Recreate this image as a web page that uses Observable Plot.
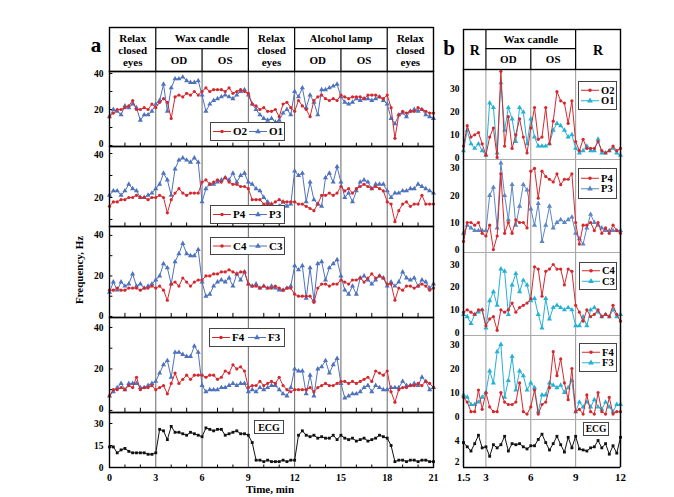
<!DOCTYPE html>
<html><head><meta charset="utf-8">
<script src="https://cdn.jsdelivr.net/npm/d3@7"></script>
<script src="https://cdn.jsdelivr.net/npm/@observablehq/plot@0.6"></script>
<style>
body{margin:0;background:#fff;}
#root{position:relative;width:674px;height:497px;overflow:hidden;font-family:"Liberation Serif","Times New Roman",serif;font-weight:bold;color:#000;}
.lbl{position:absolute;white-space:nowrap;}
</style></head><body><div id="root"></div>
<script>
// ---------------- DATA ----------------
// Panel a: time 0..21 min, sampled every 0.25 min
const O2a = [16,18,20,20,21,22,25,20,20,21,20,23, 21,24,26,24,15,27,28,27,29,28,30,28, 30,32,30,31,31,31,30,32,29,30,31,30, 29,23,22,20,21,19,19,20,16,23,24,21, 19,25,22,20,16,25,27,28,26,25,26,25, 28,27,26,27,27,27,26,28,28,28,27,26, 28,21,4,17,19,18,19,19,21,20,19,18,18];
const O1a = [16,20,19,17,22,21,23,21,14,17,17,19, 23,25,34,19,32,37,37,38,36,35,35,36, 28,19,23,25,26,27,28,27,26,28,30,31, 28,23,20,17,15,14,15,13,14,18,20,17, 30,27,32,21,28,24,17,31,31,32,33,34, 27,24,23,24,26,25,26,26,25,26,27,25, 23,15,12,17,18,16,19,20,19,20,17,16,15];
const P4a = [16,18,18,19,19,20,20,21,20,20,19,20, 20,21,20,13,19,22,24,22,21,22,22,22, 27,28,26,27,28,27,29,27,26,26,25,25, 24,19,19,19,17,17,17,18,19,18,18,18, 18,17,17,16,15,14,17,21,21,22,21,22, 25,23,24,22,24,25,26,25,24,25,24,23, 18,17,9,14,17,18,16,17,17,21,17,17,17];
const P3a = [21,23,23,21,23,26,24,23,20,20,21,22, 24,26,31,28,21,33,37,38,37,36,38,36, 18,24,26,26,27,28,29,28,31,27,30,31, 27,26,24,23,20,18,17,15,16,18,16,17, 32,30,31,18,27,19,17,16,29,31,27,34, 27,20,22,18,23,27,28,27,24,26,26,26, 23,20,22,22,23,23,24,24,26,25,24,23,22];
const C4a = [13,13,14,13,13,14,14,14,13,14,14,15, 14,15,13,8,16,17,15,19,17,15,17,18, 18,20,20,21,21,22,22,23,22,21,22,22, 16,15,15,14,15,14,14,15,14,13,14,14, 11,10,10,10,10,7,14,16,16,15,16,16, 18,17,16,18,18,19,17,19,21,19,20,19, 16,16,8,14,13,15,15,14,15,16,15,13,14];
const C3a = [12,17,13,17,15,16,21,15,16,14,15,16, 18,20,26,24,16,27,31,36,31,30,30,33, 17,10,11,15,17,18,17,19,15,21,18,22, 16,15,16,14,15,14,15,14,13,13,14,15, 25,23,25,9,24,8,26,27,18,24,26,28, 20,13,11,15,11,19,20,18,16,18,20,19, 15,17,15,17,22,19,18,19,15,18,17,14,16];
const F4a = [7,10,10,11,10,12,11,16,10,11,11,12, 10,11,12,8,13,18,13,15,17,15,17,17, 17,16,17,17,15,16,19,18,22,20,21,19, 11,12,12,14,12,13,14,13,16,12,10,9, 10,10,10,10,11,9,11,12,13,12,12,13, 14,14,13,14,13,14,15,16,14,19,18,17, 19,9,4,10,11,11,12,12,13,12,14,13,11];
const F3a = [7,9,11,13,10,13,13,13,11,11,12,13, 14,18,22,24,16,28,28,27,26,26,31,28, 12,9,10,10,10,11,11,12,13,12,13,13, 9,10,9,11,10,11,12,12,10,8,7,11, 20,19,19,8,17,7,20,21,24,18,22,25, 13,6,7,8,8,9,11,12,9,12,11,10, 10,11,11,11,14,12,12,13,12,16,14,10,11];
const ECGa = [14,14,10,12,13,11,10,10,10,10,9,9, 10,26,25,19,28,24,24,23,22,24,23,22, 21,27,26,25,26,26,22,23,24,25,23,23, 22,17,5,5,4,5,4,4,4,5,4,5, 5,22,25,22,21,22,20,21,20,20,22,19, 22,20,19,20,18,19,20,18,19,20,22,21, 20,15,4,5,5,4,5,5,4,5,5,4,4];

// Panel b: time 1.5..12 min, sampled every 0.25 min
const O2b = [5,14,9,10,11,6, 1,9,13,0,38,5,18,4,10,17,9,2, 13,22,8,9,22,6,16,29,25,24,15,25, 7,3,8,4,4,4,7,3,2,3,5,3,4];
const O1b = [3,12,6,4,6,3, 1,24,22,2,33,12,22,17,7,22,20,6, 17,9,5,5,5,6,12,15,14,12,9,10, 4,2,3,5,3,3,8,2,2,3,4,2,1];
const P4b = [3,10,10,9,10,6, 5,9,0,5,28,6,10,6,11,10,10,8, 29,30,19,29,27,26,25,28,24,26,26,28, 10,2,9,9,10,7,10,6,8,6,9,7,6];
const P3b = [6,9,8,7,7,7, 7,20,23,8,32,20,11,24,9,16,24,22, 15,9,17,3,9,16,8,10,11,10,11,12, 6,4,2,8,13,10,9,8,7,7,7,7,7];
const C4b = [9,10,9,8,10,10, 3,6,7,1,10,9,10,13,9,11,12,13, 15,29,28,16,27,28,30,28,28,21,28,27, 12,9,5,10,7,8,10,7,8,7,12,8,5];
const C3b = [8,7,4,8,9,10, 2,14,18,12,28,27,8,21,26,18,23,21, 14,15,8,2,15,6,11,12,11,10,11,10, 3,3,7,3,10,11,9,7,8,7,10,7,8];
const F4b = [8,6,2,2,11,3, 10,4,2,2,10,6,5,5,6,14,2,1, 4,11,1,5,6,12,27,17,24,14,7,20, 2,3,1,9,2,1,10,2,1,8,1,2,2];
const F3b = [9,8,5,5,6,8, 10,19,14,27,30,8,15,25,11,19,17,11, 14,12,2,9,9,14,13,12,13,10,12,15, 2,6,4,6,4,7,4,3,6,4,2,5,5];
const ECGb = [3.8,3.4,3.0,3.7,4.5,3.3,3.4,2.5,3.6,3.3,3.6,4.4,3.0,3.7,3.6,3.7,3.4,3.2,3.5,3.5,4.1,4.6,3.8,3.1,3.7,4.4,3.6,2.9,4.3,3.3,4.4,3.2,3.1,3.0,3.3,3.4,4.0,3.3,3.7,2.7,3.5,2.8,4.3];

// axes / labels
const xDomainA = [0, 21];
const xTicksA = [0, 3, 6, 9, 12, 15, 18, 21];
const xDomainB = [1.5, 12];
const xTicksB = [1.5, 3, 6, 9, 12];
const seriesNames = {O: ["O2", "O1"], P: ["P4", "P3"], C: ["C4", "C3"], F: ["F4", "F3"], E: ["ECG"]};

const hdrA_single = [{from: 0, to: 3, label: "Relax\nclosed\neyes"}, {from: 9, to: 12, label: "Relax\nclosed\neyes"}, {from: 18, to: 21, label: "Relax\nclosed\neyes"}];
const hdrA_group = [{from: 3, to: 9, label: "Wax candle"}, {from: 12, to: 18, label: "Alcohol lamp"}];
const hdrA_sub = [{from: 3, to: 6, label: "OD"}, {from: 6, to: 9, label: "OS"}, {from: 12, to: 15, label: "OD"}, {from: 15, to: 18, label: "OS"}];
const hdrB_single = [{from: 1.5, to: 3, label: "R"}, {from: 9, to: 12, label: "R"}];
const hdrB_group = [{from: 3, to: 9, label: "Wax candle"}];
const hdrB_sub = [{from: 3, to: 6, label: "OD"}, {from: 6, to: 9, label: "OS"}];

// ---------------- DRAWING ----------------
const root = document.getElementById("root");
const FONT = '"Liberation Serif","Times New Roman",serif';
const RED = "#d5282e", BLUE = "#4f72bd", CYAN = "#25b1d6", STEEL = "#5b86c4";
const tA = d3.range(0, 21.0001, 0.25);
const tB = d3.range(1.5, 12.0001, 0.25);
const minutesA = d3.range(1, 21).filter(m => m % 3 !== 0);
const gridA = xTicksA.slice(1, -1);
const gridB = xTicksB.slice(1, -1);

function place(node, left, top) {
  node.style.position = "absolute";
  node.style.left = left + "px";
  node.style.top = top + "px";
  root.appendChild(node);
}
function sub(o) {
  const ml = 30, mr = 4, mt = 4, mb = o.mb ?? 4;
  const svg = Plot.plot({
    width: o.x1 - o.x0 + ml + mr, height: o.y1 - o.y0 + mt + mb,
    marginLeft: ml, marginRight: mr, marginTop: mt, marginBottom: mb,
    x: {domain: o.xd, axis: null}, y: {domain: o.yd, axis: null},
    style: `background:transparent;overflow:visible;font-family:${FONT};font-weight:bold;font-size:10px;max-width:none;color:#000;`,
    marks: o.marks
  });
  place(svg, o.x0 - ml, o.y0 - mt);
}
function series(t, v, color, symbol, r) {
  const d = t.map((x, i) => ({t: x, v: v[i]}));
  return [
    Plot.line(d, {x: "t", y: "v", stroke: color, strokeWidth: 1}),
    Plot.dot(d, {x: "t", y: "v", fill: color, symbol, r})
  ];
}
function yTickLabels(labels, x0, dx, nudge = {}) {
  return labels.map(v => Plot.text([v], {x: () => x0, y: d => d, text: d => String(d), textAnchor: "end", dx, dy: nudge[v] ?? 0, fontSize: 9.5}));
}

// Panel a geometry
const AX0 = 109, AX1 = 433;
function aPanel(y0, y1, yd, marks, yLabels, yMinor, extra = [], mb, nudge) {
  sub({x0: AX0, x1: AX1, y0, y1, xd: xDomainA, yd, mb, marks: [
    Plot.ruleX(gridA, {stroke: "#666", strokeWidth: 1}),
    Plot.ruleX(minutesA, {y1: yd[0], y2: yd[0] + (yd[1] - yd[0]) * 0.045, stroke: "#000"}),
    Plot.ruleY(yMinor, {x1: xDomainA[0], x2: xDomainA[0] + 0.22, stroke: "#000"}),
    ...marks,
    Plot.frame({stroke: "#000", strokeWidth: 1.4}),
    ...yTickLabels(yLabels, xDomainA[0], -6, nudge),
    ...extra
  ]});
}
aPanel(71, 146, [-0.56, 41.1], [...series(tA, O1a, BLUE, "triangle", 1.9), ...series(tA, O2a, RED, "circle", 1.6)], [0, 20, 40], [0, 10, 20, 30, 40], [], undefined, {0: -2});
aPanel(146, 226, [6.8, 43.2], [...series(tA, P3a, BLUE, "triangle", 1.9), ...series(tA, P4a, RED, "circle", 1.6)], [20, 40], [10, 20, 30, 40], [], undefined, {40: 1.5});
aPanel(226, 317, [-0.5, 44.4], [...series(tA, C3a, BLUE, "triangle", 1.9), ...series(tA, C4a, RED, "circle", 1.6)], [0, 20, 40], [0, 10, 20, 30, 40], [], undefined, {0: -1});
aPanel(317, 412, [-1, 44.8], [...series(tA, F3a, BLUE, "triangle", 1.9), ...series(tA, F4a, RED, "circle", 1.6)], [0, 20, 40], [0, 10, 20, 30, 40], [], undefined, {0: -1});
aPanel(412, 467, [0, 37.5], series(tA, ECGa, "#111", "square", 1.6), [0, 15, 30], [0, 15, 30],
  [Plot.text(xTicksA, {x: d => d, y: () => 0, dy: 10, text: d => String(d)})], 18);

// Headers
function header(x0, x1, y0, y1, xd, singles, groups, subs, singleSize) {
  const h = y1 - y0, mid = 0.48 * h;
  const mainDiv = [...new Set([...singles, ...groups].flatMap(d => [d.from, d.to]))].filter(v => v > xd[0] && v < xd[1]);
  const subDiv = subs.map(d => d.to).filter(v => !mainDiv.includes(v) && v < xd[1]);
  sub({x0, x1, y0, y1, xd, yd: [h, 0], marks: [
    Plot.ruleX(mainDiv, {y1: 0, y2: h, stroke: "#000", strokeWidth: 1.2}),
    Plot.ruleX(subDiv, {y1: mid, y2: h, stroke: "#000", strokeWidth: 1.2}),
    Plot.ruleY(groups, {y: () => mid, x1: "from", x2: "to", stroke: "#000", strokeWidth: 1.2}),
    Plot.frame({stroke: "#000", strokeWidth: 1.4}),
    Plot.text(singles, {x: d => (d.from + d.to) / 2, y: () => h / 2 + 1, text: "label", lineHeight: 1.1, fontSize: singleSize}),
    Plot.text(groups, {x: d => (d.from + d.to) / 2, y: () => mid / 2 + 0.5, text: "label", fontSize: 11}),
    Plot.text(subs, {x: d => (d.from + d.to) / 2, y: () => (mid + h) / 2 + 0.5, text: "label", fontSize: 11})
  ]});
}
header(AX0, AX1, 27, 71, xDomainA, hdrA_single, hdrA_group, hdrA_sub, 11);

// Panel b geometry
const BX0 = 463, BX1 = 620;
function bPanel(y0, y1, yd, marks, yLabels, extra = [], mb) {
  sub({x0: BX0, x1: BX1, y0, y1, xd: xDomainB, yd, mb, marks: [
    Plot.ruleX(gridB, {stroke: "#999", strokeWidth: 1}),
    ...marks,
    Plot.frame({stroke: "#aaa", strokeWidth: 1}),
    Plot.ruleX(xDomainB, {stroke: "#000", strokeWidth: 1.5}),
    ...yTickLabels(yLabels, xDomainB[0], -4),
    ...extra
  ]});
}
bPanel(69, 159, [-0.9, 38.8], [...series(tB, O1b, CYAN, "triangle", 1.9), ...series(tB, O2b, RED, "circle", 1.6)], [0, 10, 20, 30]);
bPanel(159, 252, [-1.1, 33.3], [...series(tB, P3b, STEEL, "triangle", 1.9), ...series(tB, P4b, RED, "circle", 1.6)], [0, 10, 20, 30]);
bPanel(252, 335, [-1.3, 35.3], [...series(tB, C3b, CYAN, "triangle", 1.9), ...series(tB, C4b, RED, "circle", 1.6)], [0, 10, 20, 30]);
bPanel(335, 419, [-1.25, 33.75], [...series(tB, F3b, CYAN, "triangle", 1.9), ...series(tB, F4b, RED, "circle", 1.6)], [0, 10, 20, 30]);
bPanel(419, 467, [1.43, 6.0], series(tB, ECGb, "#111", "square", 1.6), [2, 4],
  [Plot.ruleY([1.43], {stroke: "#000", strokeWidth: 1.5}),
   Plot.text(xTicksB, {x: d => d, y: () => 1.43, dy: 10, text: d => String(d), fontSize: 11})], 18);
header(BX0, BX1, 29, 69, xDomainB, hdrB_single, hdrB_group, hdrB_sub, 14);

// Legends
function legend(left, top, w, h, items, mode, fs) {
  const svg = d3.create("svg").attr("width", w).attr("height", h)
    .style("font-family", FONT).style("font-weight", "bold").style("font-size", fs + "px").style("overflow", "visible");
  svg.append("rect").attr("x", 0.5).attr("y", 0.5).attr("width", w - 1).attr("height", h - 1)
    .attr("fill", "#fff").attr("stroke", "#444");
  items.forEach((it, i) => {
    if (!it.color) {
      svg.append("text").attr("x", w / 2).attr("y", h / 2).attr("dy", "0.35em").attr("text-anchor", "middle").text(it.label);
      return;
    }
    const x0 = mode === "row" ? 3 + i * 36 : 3;
    const cy = mode === "row" ? h / 2 : h / 2 + (i - (items.length - 1) / 2) * 10.5;
    svg.append("line").attr("x1", x0).attr("x2", x0 + 18).attr("y1", cy).attr("y2", cy).attr("stroke", it.color);
    const sym = it.symbol === "triangle" ? d3.symbolTriangle : d3.symbolCircle;
    svg.append("path").attr("d", d3.symbol(sym, it.symbol === "triangle" ? 14 : 10)())
      .attr("transform", `translate(${x0 + 9},${cy})`).attr("fill", it.color);
    svg.append("text").attr("x", x0 + 20).attr("y", cy).attr("dy", "0.35em").text(it.label);
  });
  place(svg.node(), left, top);
}
function pair(key, blue) {
  return [{label: seriesNames[key][0], color: RED, symbol: "circle"}, {label: seriesNames[key][1], color: blue, symbol: "triangle"}];
}
legend(210, 122, 75, 19, pair("O", BLUE), "row", 11);
legend(210, 205, 75, 19, pair("P", BLUE), "row", 11);
legend(210, 237, 75, 18, pair("C", BLUE), "row", 11);
legend(209, 328, 76, 19, pair("F", BLUE), "row", 11);
legend(254, 420, 30, 14, [{label: seriesNames.E[0]}], "row", 10);
legend(578, 81, 39, 29, pair("O", CYAN), "col", 10.5);
legend(578, 168, 39, 31, pair("P", STEEL), "col", 10.5);
legend(579, 262, 38, 28, pair("C", CYAN), "col", 10.5);
legend(579, 343, 38, 29, pair("F", CYAN), "col", 10.5);
legend(583, 422, 26, 14, [{label: seriesNames.E[0]}], "row", 9.5);

// Text labels
function label(text, x, y, size, extra = "") {
  const d = document.createElement("div");
  d.className = "lbl";
  d.textContent = text;
  d.style.cssText += `left:${x}px;top:${y}px;font-size:${size}px;transform:translate(-50%,-50%) ${extra};`;
  root.appendChild(d);
}
label("a", 96, 45, 21);
label("b", 449, 48, 21);
label("Frequency, Hz", 79, 270, 11, "rotate(-90deg)");
label("Time, min", 270, 489, 11);
</script></body></html>
